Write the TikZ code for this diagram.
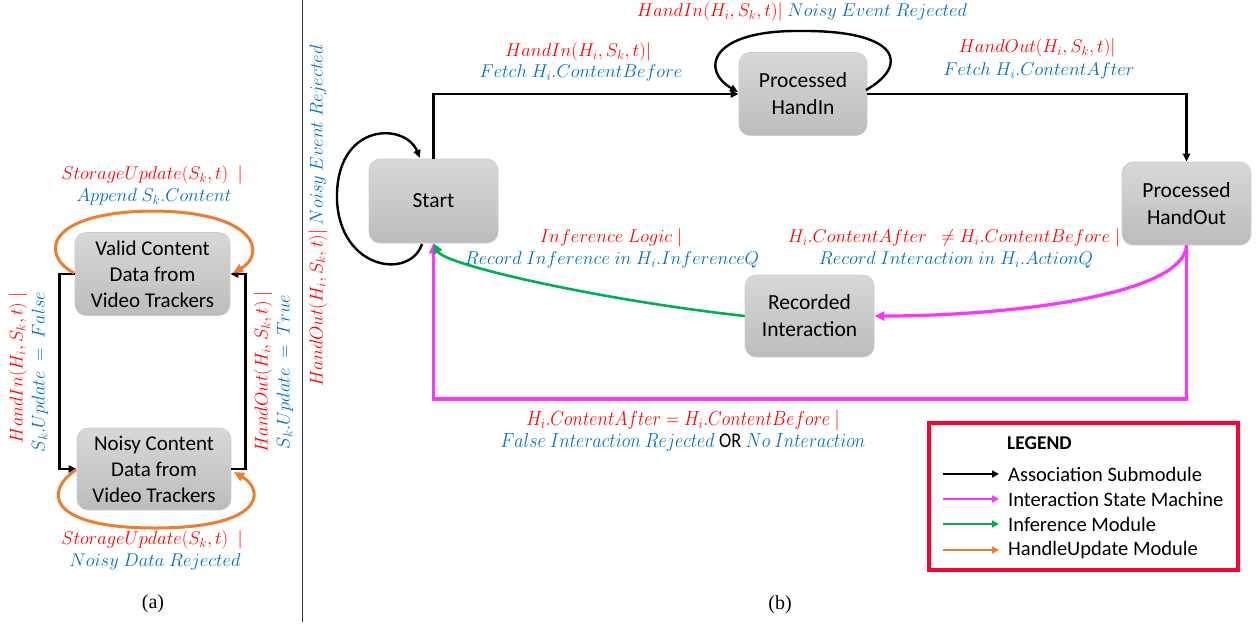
\RequirePackage{fix-cm}
\documentclass[tikz,border=0pt]{standalone}
\usepackage{fontspec}
\setmainfont{Liberation Serif}
\newfontfamily\boxfont{Carlito}
\usetikzlibrary{arrows.meta}
\definecolor{lred}{RGB}{255,0,0}
\definecolor{lblue}{RGB}{0,112,192}
\definecolor{lmag}{RGB}{255,51,255}
\definecolor{lgreen}{RGB}{0,176,80}
\definecolor{lorange}{RGB}{237,125,49}
\definecolor{legred}{RGB}{255,0,51}
\definecolor{boxtop}{RGB}{216,216,216}
\definecolor{boxbot}{RGB}{188,188,188}
\definecolor{boxedge}{RGB}{205,205,205}
\newcommand\redm[1]{\textcolor{lred}{$#1$}}
\newcommand\bluem[1]{\textcolor{lblue}{$#1$}}
\begin{document}
\begin{tikzpicture}[x=1pt,y=-1pt,
  state/.style={rounded corners=11pt, top color=boxtop, bottom color=boxbot, draw=boxedge, line width=0.6pt,
    minimum width=129pt, minimum height=83pt, align=center, inner sep=2pt,
    font=\boxfont\fontsize{21.5}{27}\selectfont},
  astate/.style={state, minimum width=155pt, font=\boxfont\fontsize{21}{26}\selectfont},
  lbl/.style={font=\fontsize{18.5}{21}\selectfont, inner sep=0pt, align=center},
  tipb/.style={-{Triangle[length=8pt,width=7pt]}},
  blk/.style={tipb, line width=2.4pt, black},
  mag/.style={-{Triangle[length=10pt,width=9pt]}, line width=3.2pt, lmag},
  grn/.style={-{Triangle[length=10pt,width=9pt]}, line width=2.6pt, lgreen},
  org/.style={-{Triangle[length=10pt,width=9pt]}, line width=3pt, lorange},
  legtxt/.style={anchor=west, inner sep=0pt, font=\boxfont\fontsize{20.5}{24}\selectfont}
]
\useasboundingbox (0,0) rectangle (1258,625);
\fill[white] (0,0) rectangle (1258,625);

% divider
\draw[line width=1pt, black!80] (302,0) -- (302,622);

% ---------------- panel (a) ----------------
\node[astate] (valid) at (152.5,274) {Valid Content\\Data from\\Video Trackers};
\node[astate, minimum width=154pt, minimum height=82pt] (noisy) at (154,469) {Noisy Content\\Data from\\Video Trackers};

\draw[blk, line width=2.8pt] (valid.west) -- ++(-15,0) |- (noisy.west);
\draw[blk, line width=2.8pt] (noisy.east) -- ++(14,0) |- (valid.east);

\coordinate (vl) at (74,273);
\coordinate (vr) at (233,273);
\coordinate (nl) at (76,470);
\coordinate (nr) at (234,472);
\draw[org] (vl) .. controls (40,255) and (45,212) .. (153,211) .. controls (260,212) and (265,255) .. (vr);
\draw[org] (nl) .. controls (45,490) and (45,528) .. (155,528) .. controls (265,528) and (265,490) .. (nr);

\node[lbl] (at1) at (152,175) {\redm{StorageUpdate(S_k,t)\ \ |}};
\node[lbl] (at2) at (154,197) {\bluem{Append\ S_k.Content}};
\node[lbl] (ab1) at (152,540) {\redm{StorageUpdate(S_k,t)\ \ |}};
\node[lbl] (ab2) at (155,562) {\bluem{Noisy\ Data\ Rejected}};
\node[lbl, rotate=90] (al1) at (18,368) {\redm{HandIn(H_i,S_k,t)\ |}};
\node[lbl, rotate=90] (al2) at (40,372) {\bluem{S_k.Update\ =\ False}};
\node[lbl, rotate=90] (ar1) at (263,372) {\redm{HandOut(H_i,S_k,t)\ |}};
\node[lbl, rotate=90] (ar2) at (285,372) {\bluem{S_k.Update\ =\ True}};

\node[font=\fontsize{20}{24}\selectfont, inner sep=0pt] (capa) at (153,604) {(a)};

% ---------------- panel (b) ----------------
\node[state, minimum height=84pt] (start) at (433.5,201) {Start};
\node[state, minimum width=128pt] (phin) at (803,94) {Processed\\HandIn};
\node[state] (phout) at (1186.5,203.5) {Processed\\HandOut};
\node[state, minimum height=82pt] (rec) at (809.5,316) {Recorded\\Interaction};

% black transitions
\draw[blk] (start.north) |- (phin.west);
\draw[blk] (phin.east) -| (phout.north);
\coordinate (hl0) at (866,90);
\coordinate (hl1) at (738,92);
\draw[blk] (hl0) .. controls (910,65) and (900,30) .. (800,31) .. controls (710,30) and (700,70) .. (hl1);
\coordinate (sl0) at (422,244);
\coordinate (sl1) at (420,158);
\draw[blk] (sl0) .. controls (410,280) and (340,270) .. (337,200) .. controls (335,122) and (405,122) .. (sl1);

% magenta
\draw[mag] (phout.south) .. controls (1184,295) and (1010,316) .. (rec.east);
\draw[mag] (phout.south) -- (1186.5,399) -| (start.south);

% green
\draw[grn] (rec.west) .. controls (600,300) and (445,265) .. (start.south);

% labels (b)
\node[lbl] (l1a) at (578,52) {\redm{HandIn(H_i,S_k,t)|}};
\node[lbl] (l1b) at (581,73) {\bluem{Fetch\ H_i.ContentBefore}};
\node[lbl] (l2) at (802,12) {\redm{HandIn(H_i,S_k,t)|}\ \bluem{Noisy\ Event\ Rejected}};
\node[lbl] (l3a) at (1037,48) {\redm{HandOut(H_i,S_k,t)|}};
\node[lbl] (l3b) at (1039,71) {\bluem{Fetch\ H_i.ContentAfter}};
\node[lbl] (l4a) at (611,238) {\redm{Inference\ Logic\ |}};
\node[lbl] (l4b) at (612,260) {\bluem{Record\ Inference\ in\ H_i.InferenceQ}};
\node[lbl] (l5a) at (954,238) {\redm{H_i.ContentAfter\ \ \neq H_i.ContentBefore\ |}};
\node[lbl] (l5b) at (956,260) {\bluem{Record\ Interaction\ in\ H_i.ActionQ}};
\node[lbl, rotate=90] (l6) at (318,216) {\redm{HandOut(H_i,S_k,t)|}\ \bluem{Noisy\ Event\ Rejected}};
\node[lbl] (l7a) at (683,420) {\scalebox{0.97}[1.1]{\redm{H_i.ContentAfter = H_i.ContentBefore\ |}}};
\node[lbl] (l7b) at (683,442) {\scalebox{0.97}[1.1]{\bluem{False\ Interaction\ Rejected}\ {\boxfont\fontsize{19}{20}\selectfont OR}\ \bluem{No\ Interaction}}};

% legend
\draw[legred, line width=4.5pt] (929,423) rectangle (1238,570);
\node[legtxt, font=\boxfont\bfseries\fontsize{19.5}{24}\selectfont] (legt) at (1007,443) {LEGEND};
\coordinate (g1a) at (943,474); \coordinate (g1b) at (999,474);
\coordinate (g2a) at (943,499); \coordinate (g2b) at (999,499);
\coordinate (g3a) at (943,524); \coordinate (g3b) at (999,524);
\coordinate (g4a) at (943,550); \coordinate (g4b) at (999,550);
\draw[-{Triangle[length=7pt,width=7pt]}, line width=2.5pt, black] (g1a) -- (g1b);
\draw[-{Triangle[length=7pt,width=7pt]}, line width=2.5pt, lmag] (g2a) -- (g2b);
\draw[-{Triangle[length=7pt,width=7pt]}, line width=2.5pt, lgreen] (g3a) -- (g3b);
\draw[-{Triangle[length=7pt,width=7pt]}, line width=2.5pt, lorange] (g4a) -- (g4b);
\node[legtxt] (lg1) at (1008,474) {Association Submodule};
\node[legtxt] (lg2) at (1008,499) {Interaction State Machine};
\node[legtxt] (lg3) at (1008,524) {Inference Module};
\node[legtxt] (lg4) at (1008,550) {HandleUpdate Module};

\node[font=\fontsize{20}{24}\selectfont, inner sep=0pt] (capb) at (780,605) {(b)};
\end{tikzpicture}
\end{document}
